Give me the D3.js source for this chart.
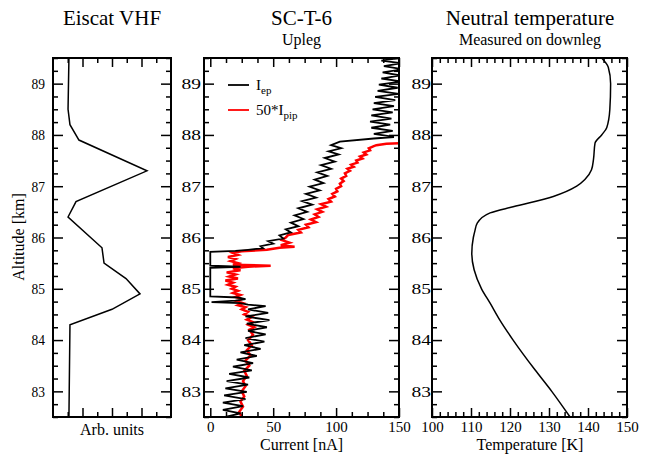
<!DOCTYPE html>
<html>
<head>
<meta charset="utf-8">
<script src="https://cdn.jsdelivr.net/npm/d3@7"></script>
<style>
body { margin: 0; background: #fff; }
svg { font-family: "Liberation Serif", "Times New Roman", serif; }
</style>
</head>
<body>
<svg id="chart" width="652" height="455"></svg>
<script>
// profiles as [altitude km, value]
var vhfProfile = [[89.5,1.08],[88.5,1.02],[88.2,1.15],[87.9,1.76],[87.3,6.37],[86.7,1.56],[86.4,1.02],
    [85.8,3.32],[85.5,3.46],[85.2,4.95],[84.9,5.9],[84.6,4.0],[84.3,1.15],[83.0,1.1],[82.5,1.08]];

var iepProfile = [[89.50,150],[89.45,136],[89.40,152],[89.34,138],[89.28,153],[89.22,137],[89.16,151],[89.10,136],
    [89.04,152],[88.98,134],[88.92,149],[88.86,133],[88.80,150],[88.74,131],[88.68,147],[88.62,130],[88.56,146],
    [88.50,129],[88.44,145],[88.38,128],[88.32,144],[88.26,127],[88.20,143],[88.14,128],[88.08,145],[88.02,130],
    [87.96,146],[87.93,130],[87.87,103],[87.80,96],[87.74,104],[87.68,94],[87.62,102],[87.55,91],[87.48,99],
    [87.41,88],[87.34,96],[87.27,85],[87.20,93],[87.13,83],[87.06,90],[86.99,79],[86.92,87],[86.85,76],[86.78,84],
    [86.71,73],[86.64,81],[86.57,70],[86.50,77],[86.43,67],[86.36,74],[86.29,64],[86.22,70],[86.16,60],[86.10,64],
    [86.04,55],[85.98,58],[85.93,46],[85.88,50],[85.83,40],[85.79,42],[85.76,30],[85.74,20],[85.72,0],[85.45,0],
    [85.43,24],[85.41,0],[84.85,0],[84.83,22],[84.80,28],[84.77,20],[84.74,1],[84.72,24],[84.69,30],[84.66,44],
    [84.60,30],[84.53,46],[84.46,28],[84.39,47],[84.32,29],[84.25,45],[84.18,30],[84.11,44],[84.04,28],[83.97,43],
    [83.90,27],[83.83,40],[83.76,24],[83.69,37],[83.62,21],[83.55,34],[83.48,18],[83.41,33],[83.34,15],[83.27,31],
    [83.20,13],[83.13,30],[83.06,12],[82.99,29],[82.92,11],[82.85,28],[82.78,10],[82.71,26],[82.64,10],[82.57,24],
    [82.50,12]];

var ipipProfile = [[87.84,152],[87.83,140],[87.80,132],[87.78,130],[87.74,126],[87.70,127],[87.66,122],[87.62,124],
    [87.58,119],[87.54,121],[87.50,116],[87.46,117],[87.42,112],[87.38,114],[87.34,109],[87.30,111],[87.25,107],
    [87.20,108],[87.15,104],[87.10,106],[87.05,103],[87.00,104],[86.95,100],[86.90,101],[86.85,97],[86.80,99],
    [86.75,94],[86.70,96],[86.65,88],[86.60,92],[86.55,85],[86.50,89],[86.45,83],[86.40,86],[86.35,80],[86.30,84],
    [86.25,76],[86.20,78],[86.15,70],[86.10,72],[86.05,62],[86.00,60],[85.95,57],[85.90,63],[85.85,56],[85.82,67],
    [85.80,55],[85.76,45],[85.73,25],[85.70,18],[85.66,22],[85.62,14],[85.58,20],[85.54,16],[85.50,22],[85.47,18],
    [85.45,48],[85.43,30],[85.40,18],[85.36,24],[85.32,13],[85.28,20],[85.24,15],[85.20,22],[85.16,12],[85.12,18],
    [85.08,14],[85.04,20],[85.00,17],[84.96,22],[84.92,18],[84.88,24],[84.84,20],[84.80,25],[84.76,21],[84.72,26],
    [84.68,22],[84.64,28],[84.60,25],[84.55,30],[84.50,27],[84.45,33],[84.40,29],[84.35,34],[84.30,30],[84.25,35],
    [84.20,31],[84.10,34],[84.00,30],[83.90,33],[83.80,29],[83.70,32],[83.60,28],[83.50,31],[83.40,27],[83.30,29],
    [83.20,26],[83.10,28],[83.00,25],[82.90,27],[82.80,24],[82.70,26],[82.60,23],[82.50,25]];

var tempProfile = [[89.5,143.5],[89.32,145.2],[89.0,145.8],[88.5,145.6],[88.14,144.8],[88.0,143.5],[87.84,141.8],
    [87.52,141.4],[87.32,140.9],[87.13,139.2],[87.0,137.1],[86.8,131.1],[86.6,120.8],[86.48,114.9],[86.28,111.6],
    [86.13,111.0],[86.0,110.6],[85.69,110.2],[85.37,110.8],[85.0,112.7],[84.72,114.9],[84.39,117.4],[84.0,120.8],
    [83.42,126.4],[83.0,130.7],[82.5,135.4]];

var altTicks = [83, 84, 85, 86, 87, 88, 89];
var currentTicks = [0, 50, 100, 150];
var tempTicks = [100, 110, 120, 130, 140, 150];

var svg = d3.select("#chart");
var top0 = 58, bottom0 = 417;

var y = d3.scaleLinear().domain([82.5, 89.5]).range([bottom0, top0]);
var altMinor = d3.range(82.5, 89.51, 0.25).filter(d => Math.abs(d - Math.round(d)) > 0.01);

var xVhf = d3.scaleLinear().domain([0, 8]).range([53, 171]);
var xCur = d3.scaleLinear().domain([-5, 150]).range([204, 399]);
var xTemp = d3.scaleLinear().domain([100, 150]).range([432, 627]);

function cleanAxis(g) {
    g.attr("font-size", null).attr("font-family", null);
    g.select(".domain").remove();
    g.selectAll(".tick line").attr("stroke-width", 1.5);
}

// box with inward ticks on all four sides
function drawFrame(x, opt) {
    var x0 = x.range()[0], x1 = x.range()[1];
    var g = svg.append("g");

    // y axis, left side with labels
    var yl = g.append("g").attr("transform", `translate(${x0},0)`)
        .call(d3.axisLeft(y).tickValues(altTicks).tickSize(-10).tickPadding(0).tickFormat(d3.format("d")));
    cleanAxis(yl);
    yl.selectAll(".tick text")
        .attr("x", 0)
        .attr("transform", `translate(${-opt.yPad},0) scale(${opt.yScale},1)`)
        .style("font-size", "15px");
    g.append("g").attr("transform", `translate(${x0},0)`)
        .call(d3.axisLeft(y).tickValues(altMinor).tickSize(-5).tickFormat("")).call(cleanAxis);

    // y axis, right side
    g.append("g").attr("transform", `translate(${x1},0)`)
        .call(d3.axisRight(y).tickValues(altTicks).tickSize(-10).tickFormat("")).call(cleanAxis);
    g.append("g").attr("transform", `translate(${x1},0)`)
        .call(d3.axisRight(y).tickValues(altMinor).tickSize(-5).tickFormat("")).call(cleanAxis);

    // x axis, bottom
    var xb = g.append("g").attr("transform", `translate(0,${bottom0})`)
        .call(d3.axisBottom(x).tickValues(opt.major).tickSize(-9).tickFormat(opt.labels ? d3.format("d") : ""));
    cleanAxis(xb);
    xb.selectAll(".tick text").attr("y", 15).attr("dy", null).style("font-size", "15px");
    g.append("g").attr("transform", `translate(0,${bottom0})`)
        .call(d3.axisBottom(x).tickValues(opt.minor).tickSize(-5).tickFormat("")).call(cleanAxis);

    // x axis, top
    g.append("g").attr("transform", `translate(0,${top0})`)
        .call(d3.axisTop(x).tickValues(opt.major).tickSize(-9).tickFormat("")).call(cleanAxis);
    g.append("g").attr("transform", `translate(0,${top0})`)
        .call(d3.axisTop(x).tickValues(opt.minor).tickSize(-5).tickFormat("")).call(cleanAxis);

    g.append("rect")
        .attr("x", x0).attr("y", top0)
        .attr("width", x1 - x0).attr("height", bottom0 - top0)
        .attr("fill", "none").attr("stroke", "#000").attr("stroke-width", 2);
    return g;
}

function addClip(id, x) {
    svg.append("clipPath").attr("id", id).append("rect")
        .attr("x", x.range()[0]).attr("y", top0)
        .attr("width", x.range()[1] - x.range()[0]).attr("height", bottom0 - top0);
}
addClip("clipCur", xCur);

// Panel 1: Eiscat VHF
var line1 = d3.line().x(d => xVhf(d[1])).y(d => y(d[0]));
svg.append("path").datum(vhfProfile).attr("d", line1)
    .attr("fill", "none").attr("stroke", "#000").attr("stroke-width", 1.5);
drawFrame(xVhf, {major: [2, 4, 6], minor: [1, 3, 5, 7], labels: false, yPad: 8, yScale: 0.9});

// Panel 2: SC-T-6 currents
var line2 = d3.line().x(d => xCur(d[1])).y(d => y(d[0]));
svg.append("path").datum(ipipProfile).attr("d", line2).attr("clip-path", "url(#clipCur)")
    .attr("fill", "none").attr("stroke", "#ff0000").attr("stroke-width", 2.5);
svg.append("path").datum(iepProfile).attr("d", line2).attr("clip-path", "url(#clipCur)")
    .attr("fill", "none").attr("stroke", "#000").attr("stroke-width", 1.8);
drawFrame(xCur, {major: currentTicks, minor: [12.5, 25, 37.5, 62.5, 75, 87.5, 112.5, 125, 137.5],
    labels: true, yPad: 3, yScale: 1.3});

// Panel 3: neutral temperature
var line3 = d3.line().x(d => xTemp(d[1])).y(d => y(d[0])).curve(d3.curveMonotoneY);
svg.append("path").datum(tempProfile).attr("d", line3)
    .attr("fill", "none").attr("stroke", "#000").attr("stroke-width", 1.5);
drawFrame(xTemp, {major: tempTicks, minor: d3.range(102, 150, 2).filter(d => d % 10 != 0),
    labels: true, yPad: 1, yScale: 1.3});

// titles
function title(x, yy, size, txt) {
    svg.append("text").attr("x", x).attr("y", yy).attr("text-anchor", "middle")
        .style("font-size", size + "px").text(txt);
}
title(112, 25, 21, "Eiscat VHF");
title(301.5, 25, 21, "SC-T-6");
title(301.5, 45, 16, "Upleg");
title(530, 25, 21, "Neutral temperature");
title(530, 45, 16, "Measured on downleg");
title(112, 435, 16, "Arb. units");
title(301.5, 450, 16, "Current [nA]");
title(530, 450, 16, "Temperature [K]");

svg.append("text")
    .attr("transform", "translate(24,237) rotate(-90)")
    .attr("text-anchor", "middle")
    .style("font-size", "16px")
    .text("Altitude [km]");

// legend
var legend = svg.append("g");
var legendItems = [{color: "#000", main: "I", sub: "ep", y: 85}, {color: "#ff0000", main: "50*I", sub: "pip", y: 110}];
legendItems.forEach(function(d) {
    legend.append("line").attr("x1", 228).attr("x2", 249).attr("y1", d.y).attr("y2", d.y)
        .attr("stroke", d.color).attr("stroke-width", 1.8);
    var t = legend.append("text").attr("x", 256).attr("y", d.y + 5).style("font-size", "15px");
    t.append("tspan").text(d.main);
    t.append("tspan").attr("dy", 4).style("font-size", "11px").text(d.sub);
});
</script>
</body>
</html>
